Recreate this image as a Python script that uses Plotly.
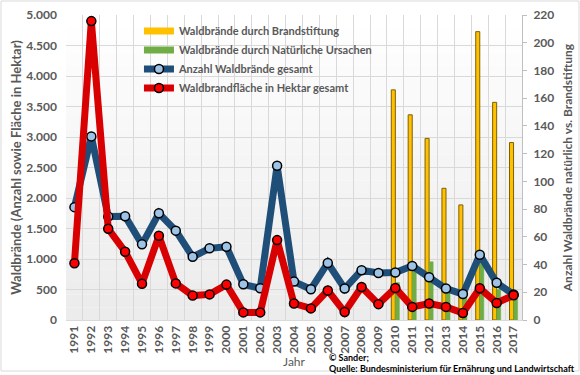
import plotly.graph_objects as go

years = [str(y) for y in range(1991, 2018)]
anzahl_gesamt = [1850, 3010, 1695, 1700, 1240, 1750, 1465, 1035, 1175, 1200, 585, 520, 2530,
                 630, 505, 935, 515, 815, 770, 780, 885, 700, 515, 425, 1070, 610, 420]
flaeche_gesamt = [930, 4900, 1495, 1120, 595, 1380, 600, 400, 420, 580, 125, 125, 1310,
                  270, 190, 485, 130, 540, 260, 525, 215, 270, 215, 115, 520, 280, 405]
bar_years = [str(y) for y in range(2010, 2018)]
brandstiftung = [166, 148, 131, 95, 83, 208, 157, 128]
natuerlich = [27, 38, 42, 22, 18, 48, 22, 19]

gray = "#595959"
font_family = "Lato"
yellow, green = "#FFC000", "#70AD47"

fig = go.Figure()
fig.add_trace(go.Bar(x=bar_years, y=brandstiftung, name="Waldbrände durch Brandstiftung",
                     marker=dict(color=yellow, line=dict(color="#7F6000", width=1)),
                     yaxis="y", showlegend=False))
fig.add_trace(go.Bar(x=bar_years, y=natuerlich, name="Waldbrände durch Natürliche Ursachen",
                     marker=dict(color=green, line=dict(color=green, width=0.5)),
                     yaxis="y", showlegend=False))
# legend-only entries drawn as wide swatches like the original legend
fig.add_trace(go.Scatter(x=[None], y=[None], mode="lines", name="Waldbrände durch Brandstiftung",
                         line=dict(color=yellow, width=7), yaxis="y2"))
fig.add_trace(go.Scatter(x=[None], y=[None], mode="lines", name="Waldbrände durch Natürliche Ursachen",
                         line=dict(color=green, width=7), yaxis="y2"))
fig.add_trace(go.Scatter(x=years, y=anzahl_gesamt, name="Anzahl Waldbrände gesamt",
                         mode="lines+markers", yaxis="y2",
                         line=dict(color="#1F4E79", width=7),
                         marker=dict(size=9, color="#9DC3E6", line=dict(color="black", width=1.5))))
fig.add_trace(go.Scatter(x=years, y=flaeche_gesamt, name="Waldbrandfläche in Hektar gesamt",
                         mode="lines+markers", yaxis="y2",
                         line=dict(color="#D80000", width=7),
                         marker=dict(size=9, color="#FF0000", line=dict(color="black", width=1.5))))

# subtle vertical gradient background of the plot area
shapes = []
n = 24
for i in range(n):
    g = int(255 - (255 - 236) * (i / (n - 1)))
    shapes.append(dict(type="rect", xref="paper", yref="paper", x0=0, x1=1,
                       y0=1 - (i + 1) / n, y1=1 - i / n, layer="below",
                       fillcolor=f"rgb({g},{g},{g})", line=dict(width=0)))
# outer chart border
shapes.append(dict(type="rect", xref="paper", yref="paper",
                   x0=-65 / 456, x1=(580 - 67) / 456, y0=-51 / 305, y1=(320 - 1) / 305,
                   line=dict(color="#d9d9d9", width=1), layer="below"))

fig.update_layout(
    width=580, height=375,
    margin=dict(l=66, r=58, t=15, b=55),
    paper_bgcolor="white", plot_bgcolor="white",
    separators=",.",
    font=dict(family=font_family, color=gray, size=12, weight="bold"),
    barmode="group", bargap=0.52, bargroupgap=0,
    showlegend=True,
    legend=dict(x=0.16, y=0.995, xanchor="left", yanchor="top", bgcolor="rgba(0,0,0,0)",
                font=dict(size=11, color=gray, family=font_family, weight="bold"),
                tracegroupgap=0, itemwidth=30),
    xaxis=dict(type="category", categoryorder="array", categoryarray=years, automargin=False,
               range=[-0.5, len(years) - 0.5],
               tickangle=-90, tickson="boundaries", showgrid=True, gridcolor="#d9d9d9",
               ticks="", showline=True, linecolor="#d9d9d9",
               title=dict(text="Jahr", font=dict(size=12, color=gray, weight="normal"), standoff=2),
               tickfont=dict(size=12, color=gray, weight="bold")),
    yaxis=dict(side="right", range=[0, 220], dtick=20, showgrid=False, zeroline=False, automargin=False,
               showline=True, linecolor="#bfbfbf", ticks="outside", ticklen=4, tickcolor="#bfbfbf",
               ticklabelstandoff=4,
               tickfont=dict(size=12, color=gray),
               title=dict(text="Anzahl Waldbrände natürlich vs. Brandstiftung",
                          font=dict(size=12, color=gray), standoff=10)),
    yaxis2=dict(side="left", overlaying="y", range=[0, 5000], dtick=500, tickformat=",",
                showgrid=True, gridcolor="#d9d9d9", zeroline=False, showline=False, automargin=False,
                ticklabelstandoff=8,
                tickfont=dict(size=12, color=gray),
                title=dict(text="Waldbrände (Anzahl sowie Fläche in Hektar)",
                           font=dict(size=13, color=gray), standoff=1)),
    shapes=shapes,
    annotations=[
        dict(text="© Sander;", xref="paper", yref="paper", x=(327 - 66) / 456, y=(320 - 357) / 305,
             xanchor="left", yanchor="middle", showarrow=False,
             font=dict(size=9, color="black", family=font_family, weight="bold")),
        dict(text="Quelle: Bundesministerium für Ernährung und Landwirtschaft", xref="paper", yref="paper",
             x=(327 - 66) / 456, y=(320 - 368) / 305, xanchor="left", yanchor="middle", showarrow=False,
             font=dict(size=9, color="black", family=font_family, weight="bold")),
    ],
)

fig.write_html("out.html", config={"displayModeBar": False},
               post_script="document.body.style.margin='0';")
